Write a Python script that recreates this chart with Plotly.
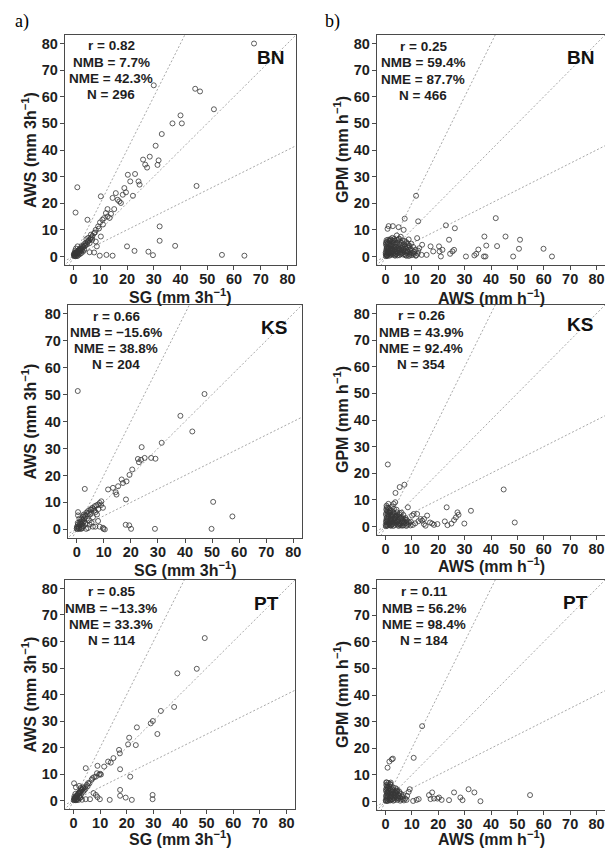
import plotly.graph_objects as go

# ---------------------------------------------------------------- data
AXIS_RANGE = [-3.2, 83.2]
TICKS = [0, 10, 20, 30, 40, 50, 60, 70, 80]
REF_SLOPES = [0.5, 1.0, 2.0]          # 1:2, 1:1 and 2:1 reference lines

SITES = ["BN", "KS", "PT"]
X_TITLE_A = "SG (mm 3h<sup>\u22121</sup>)"
Y_TITLE_A = "AWS (mm 3h<sup>\u22121</sup>)"
X_TITLE_B = "AWS (mm h<sup>\u22121</sup>)"
Y_TITLE_B = "GPM (mm h<sup>\u22121</sup>)"

# statistics: r, NMB (%), NME (%), N
STATS_A_BN = ["0.82", "7.7", "42.3", "296"]
STATS_A_KS = ["0.66", "\u221215.6", "38.8", "204"]
STATS_A_PT = ["0.85", "\u221213.3", "33.3", "114"]
STATS_B_BN = ["0.25", "59.4", "87.7", "466"]
STATS_B_KS = ["0.26", "43.9", "92.4", "354"]
STATS_B_PT = ["0.11", "56.2", "98.4", "184"]

# (SG, AWS) pairs, 3-hourly accumulation
A_BN = [
    (67.5, 80), (30, 64.3), (45.5, 63), (47.3, 62), (52.5, 55.3), (40, 53), (37, 50),
    (40.5, 50), (33, 46), (30.7, 41.6), (26, 36.4), (28.5, 37.5), (26.8, 34.5),
    (27.5, 33.4), (31.8, 36.1), (31.4, 34.4), (20.3, 30.7), (23, 31), (21.2, 28.2),
    (24.3, 28.2), (24.7, 27), (19, 25.7), (19.6, 24.1), (18.4, 23.2), (22.2, 22.8),
    (15.8, 23.8), (14.6, 22), (17.1, 20.7), (17.7, 20.1), (16.5, 21.3), (12.7, 17.8),
    (12.1, 16.3), (15.2, 17.8), (11.4, 14.4), (12.7, 15), (10.8, 13.8), (9.9, 12.8),
    (9.2, 11.3), (8.3, 10), (7.7, 8.8), (7.1, 7.8), (6.4, 6.9), (5.8, 6), (5.2, 5.3),
    (4.2, 4), (3.3, 3.2), (2.4, 2.5), (1.4, 1.9), (0.75, 1.3), (0.1, 0.6), (7, 6.3),
    (8.3, 5.6), (10.2, 7.5), (10.2, 22.6), (1.4, 26), (0.75, 16.5), (5.2, 13.8),
    (46, 26.5), (32.2, 11.3), (32.2, 5.9), (38, 4), (20, 3.8), (22.8, 2.1), (28, 1.8),
    (29.7, 0.5), (55.5, 0.6), (63.9, 0.3), (14.6, 0.3), (12.3, 0.6), (9.8, 0.3),
    (8.7, 3.8), (6, 1.6), (7.7, 1.5), (11, 12), (13.5, 14.5), (14, 16), (9.5, 10.5),
    (8, 9), (6.8, 7.2), (6, 5), (5, 4.5), (4.5, 5), (3.8, 3.5), (3, 2.5), (2.5, 3),
    (2, 1.5), (1.8, 2.2), (1.2, 1), (1, 0.5), (0.5, 0.2), (0.3, 0.8), (0.6, 2.2),
    (1.5, 3.8), (2.2, 0.8), (3.5, 1.8), (2.8, 1.2), (0.9, 3), (1.6, 0.3), (4, 2.5),
    (0.2, 0.2), (1, 1.6), (2, 2.2), (3, 3.8), (4.8, 6.5), (6.5, 8.2), (5.5, 7),
    (0.4, 0.4), (0.7, 0.9), (1.1, 1.4), (1.6, 1.6), (2.1, 2.6), (2.7, 2.9), (3.6, 3.9),
    (4.4, 4.2), (0.2, 1.1), (1.3, 0.2), (2.6, 1.9), (3.9, 4.6), (5.4, 5.8), (6.2, 6.4),
    (0.8, 0.1), (1.9, 1.2), (0.5, 1.5), (3.1, 2.1),
]
A_KS = [
    (0.4, 51.3), (47.2, 50.2), (38.3, 42.1), (42.7, 36.3), (31.4, 32.1), (24, 30.5),
    (22.6, 26.1), (23.8, 25.8), (25.1, 26.5), (27.5, 26.5), (29.1, 26.2), (23, 24.9),
    (20.5, 22.2), (19.5, 20.2), (18.4, 17.8), (17.1, 17.2), (16.6, 18.5), (15.3, 16),
    (13.4, 15.4), (11.6, 14.8), (14.4, 13.8), (14.7, 12.9), (3, 15), (18.2, 11.1),
    (50.4, 10.2), (57.5, 4.8), (18.1, 1.7), (19.4, 1.5), (20.1, 0.2), (28.9, 0.2),
    (49.8, 0.2), (9.9, 0.2), (10.4, 0), (9.7, 0.6), (8.5, 1), (6.9, 1), (6, 1),
    (4.8, 1.8), (7.9, 3.1), (9.1, 10.4), (8.5, 9.8), (7.9, 9.2), (7.3, 8.9), (6.7, 8.6),
    (5.8, 8), (5.1, 7.4), (4.2, 6.8), (3.6, 6.2), (3, 5.2), (2.3, 4.7), (1.7, 3.7),
    (1.1, 2.7), (0.5, 1.8), (0.1, 1), (0, 0.3), (0.5, 6.4), (0.5, 5.2), (9.7, 8),
    (7, 6.4), (7.5, 5.5), (0.3, 0.1), (0.8, 0.5), (1.2, 1.5), (1.5, 0.2), (2, 2),
    (2.5, 1.2), (2.8, 3), (3.3, 2.2), (3.8, 4), (4.2, 0.5), (4.5, 3.3), (5, 5.5),
    (5.5, 2.5), (6, 4.5), (6.5, 7), (8, 7.5), (9, 9), (2, 0.6), (1, 4), (3.5, 0.2),
    (1.8, 1), (2.6, 5.5),
    (0.2, 0.6), (0.6, 1.1), (1.4, 2.2), (2.1, 3.3), (2.7, 4.1), (3.3, 4.9), (0.9, 0.2),
    (1.6, 2.9), (2.4, 2.6), (4, 5.6), (4.6, 6.2), (5.4, 7.3), (6.2, 7.6), (0.4, 2.4),
    (1.9, 0.3),
]
A_PT = [
    (49.3, 61.3), (46.3, 49.7), (39, 48), (37.8, 35.3), (32.8, 33.8), (29.8, 30),
    (29, 29.1), (31.5, 25.1), (23.8, 27.6), (20.9, 23.7), (20.5, 21.2), (23.4, 20.9),
    (17.1, 19.1), (17.4, 17.8), (15, 16), (13, 14.7), (14, 14.3), (11.5, 12.8),
    (9, 13.1), (4.6, 12.2), (17.5, 11.8), (21.3, 9), (10.3, 9.8), (9.6, 9.7),
    (17.5, 4), (17.5, 1.8), (19.6, 1.1), (29.7, 2.1), (29.7, 0.5), (21.9, 0.25),
    (13.6, 0.25), (9.9, 0.5), (9, 1.3), (7.5, 2.8), (8.4, 2.1), (6.2, 0.5), (4.6, 0.5),
    (0.2, 6.5), (0.9, 5), (2.1, 5.5), (2.7, 4.7), (3.4, 5), (4.2, 5), (5, 5.9),
    (5.5, 6.6), (6.8, 7.8), (7.1, 8.4), (7.7, 8.8), (8.4, 9), (8.8, 10.3), (10, 10.1),
    (0.1, 0.1), (0.4, 0.6), (0.8, 1.2), (1.2, 1.8), (1.6, 2.4), (2, 3), (2.5, 3.5),
    (3, 4), (3.5, 3.2), (0.5, 0.2), (1, 0.4), (1.5, 0.8), (2.2, 1.5), (2.8, 2.2),
    (3.2, 0.3), (1.8, 0.2), (0.3, 1.5), (0.7, 2.5), (4, 3.8), (2.4, 0.9),
    (0.2, 0.4), (0.6, 0.9), (1.1, 1.1), (1.4, 2), (1.9, 2.6), (2.3, 2.8), (2.7, 3.3),
    (3.3, 4.3), (3.7, 4.5), (0.9, 0.1), (1.3, 0.3), (2.6, 1.2), (4.5, 4.4), (0.4, 1),
    (5.3, 5.4), (6, 6.5),
]

# (AWS, GPM) pairs, hourly
B_BN = [
    (11.6, 22.8), (7.3, 14.2), (12.4, 13.2), (1.2, 11.4), (2.8, 11.4), (5, 11),
    (6.9, 10), (0.8, 10.4), (22.9, 11.7), (26.3, 10.6), (41.8, 14.4), (24.1, 6.3),
    (12, 6.9), (4.3, 7.9), (13.9, 4.4), (17.1, 3.8), (20.3, 3.8), (21.6, 2.5),
    (20.5, 1.9), (18.1, 1.9), (26, 2.5), (25.4, 1.9), (24.5, 1), (21, 0), (30.5, 0),
    (33.7, 0.4), (34.4, 1), (35.2, 2.6), (37.5, 7.5), (38.2, 4.1), (42.3, 3.9),
    (45.5, 7.5), (51, 6.3), (50.6, 2.9), (59.9, 2.9), (37.3, 0), (37.9, 0), (48.4, 0),
    (63.1, 0), (15.6, 0.6), (13.7, 0.6), (11.5, 0.3),
    (0.2, 0.1), (0.5, 0.5), (0.8, 1.2), (1, 2), (1.2, 3), (0.4, 4), (0.6, 5.5),
    (1, 6.3), (1.5, 0.3), (1.8, 1.5), (2, 2.8), (2.2, 4.2), (2.5, 5.2), (2.8, 0.8),
    (3, 2), (3.2, 3.5), (3.5, 6), (3.8, 1), (4, 4.8), (4.3, 2.5), (4.6, 0.4),
    (5, 3.2), (5.3, 5.5), (5.6, 1.6), (6, 2.4), (6.3, 4), (6.7, 0.7), (7, 3),
    (7.3, 5.8), (7.6, 1.8), (8, 0.3), (8.3, 2.2), (8.7, 4.2), (9, 1), (9.5, 2.9),
    (10, 0.5), (10.5, 3.6), (11, 1.7), (0.3, 2.4), (0.7, 3.6), (1.4, 4.6), (1.9, 6.5),
    (2.6, 7), (0.9, 0.7), (1.1, 1.1), (1.6, 2.2), (2.3, 1.3), (3.4, 0.5), (0.1, 1.5),
    (0.5, 2.9), (4.9, 6.5), (5.8, 7.4), (6.5, 6), (8.8, 6.4), (9.8, 4.8),
    (0.3, 0.6), (0.6, 1.8), (0.9, 2.6), (1.3, 3.4), (0.2, 4.6), (0.8, 4.9), (1.7, 5.8),
    (0.4, 6.1), (1.1, 5.1), (1.9, 3.1), (2.4, 2.1), (2.7, 3.9), (2.9, 5.9), (3.3, 4.4),
    (3.6, 2.7), (3.9, 1.7), (4.1, 3.6), (4.4, 5.2), (4.7, 1.3), (5.1, 2.1), (5.4, 4.4),
    (5.7, 0.9), (6.1, 3.3), (6.4, 1.4), (6.8, 2.6), (7.1, 4.6), (7.4, 0.8), (7.8, 2.9),
    (8.1, 1.3), (8.5, 3.4), (8.9, 0.2), (9.2, 2.4), (9.6, 1.4), (10.2, 2.2), (10.8, 0.9),
    (11.4, 2.6), (12.2, 1.1), (12.8, 3.1), (0.1, 0.9), (0.7, 0.2), (1.4, 1.3), (2.1, 0.6),
    (2.9, 1.6), (3.7, 0.3), (4.5, 1.9), (5.3, 0.5), (6, 1.1), (6.9, 1.9), (7.7, 0.4),
    (8.6, 1.7), (9.3, 0.6), (0.5, 3.3), (1.2, 2.5), (1.9, 4), (2.6, 2.9), (3.1, 5.1),
    (3.8, 3.8), (4.6, 3), (5.5, 2.8), (6.6, 3.6), (7.5, 3.8), (8.4, 4.9), (0.2, 5.2),
    (1.5, 6), (2.3, 6.2), (3.3, 6.6), (4.4, 6.1), (5.2, 6.7), (6.2, 5.1), (7.9, 5.4),
    (9.1, 3.9), (10.3, 1.2), (11.6, 0.4), (12.4, 2.2), (0.6, 0.4), (1, 1.4), (1.7, 0.9),
    (2.4, 2.4), (3.2, 1.2), (4.1, 0.9), (4.9, 2.7),
]
B_KS = [
    (0.9, 23.3), (7.2, 15.7), (5.4, 14.8), (3.8, 12.6), (44.8, 13.9), (49, 1.5),
    (23.2, 7.2), (32.4, 5.9), (27.3, 5.3), (27.7, 4.4), (26.7, 3.4), (26, 2.4),
    (29.9, 1.1), (25, 1.1), (23.5, 0.5), (22.5, 1.9), (19.7, 0.9), (18.4, 0.6),
    (17.7, 1.1), (16.9, 1.5), (15.8, 4.1), (14.6, 2.8), (13.9, 2.2), (13.3, 2.8),
    (12, 4.7), (10.7, 4.7), (10.1, 4.1), (8.5, 7.2), (15.2, 0.3), (14.6, 0.9),
    (3.7, 9.1), (3.1, 8.5), (0.5, 7.2), (1.1, 8.5), (12.5, 2), (11.3, 1.2), (9.5, 0.4),
    (9, 1.5), (8, 2.5),
    (0.2, 0.1), (0.5, 1), (0.8, 2), (1, 3), (1.2, 4), (0.3, 5), (0.6, 6), (1.5, 0.5),
    (1.8, 1.5), (2, 2.5), (2.2, 3.5), (2.5, 4.5), (2.8, 5.5), (3, 0.2), (3.3, 1.8),
    (3.6, 3), (4, 4), (4.2, 6.3), (4.5, 0.8), (4.8, 2.3), (5.2, 3.6), (5.5, 5),
    (5.8, 1.2), (6.2, 2.8), (6.5, 0.3), (6.8, 4.3), (7.2, 1.8), (7.6, 3.2), (8.2, 0.6),
    (1.4, 6.8), (2.4, 7.5), (0.4, 2.8), (1.6, 5.2), (2.7, 1), (3.9, 2.1), (5, 0.2),
    (0.9, 0.4), (1.3, 1.4), (2.1, 0.3), (3.5, 4.8),
    (0.1, 0.6), (0.4, 1.6), (0.7, 2.4), (1.1, 3.6), (0.2, 4.4), (0.9, 4.7), (1.6, 5.8),
    (0.3, 6.4), (1.2, 5.4), (1.9, 3.1), (2.3, 2.1), (2.6, 3.9), (3, 5.1), (3.2, 4.2),
    (3.5, 2.6), (3.8, 1.4), (4.1, 3.5), (4.4, 5.3), (4.6, 1.6), (5, 2.9), (5.3, 4.4),
    (5.6, 0.7), (6, 3.4), (6.3, 1.6), (6.6, 2.2), (7, 0.5), (7.4, 2.6), (7.8, 1.3),
    (8.4, 1.9), (0.6, 0.3), (1.3, 0.9), (2, 0.4), (2.8, 1.5), (3.6, 0.6), (4.3, 1.9),
    (5.1, 1.1), (5.9, 0.4), (6.9, 1.2), (0.5, 3.4), (1.4, 2.3), (2.1, 4.3), (2.9, 2.6),
    (3.7, 3.6), (4.6, 4.1), (5.6, 3.1), (6.1, 5.2), (0.8, 5.6), (1.9, 6.2), (3.2, 6.6),
    (0.2, 2), (1.7, 1.2), (2.5, 0.7), (3.3, 3), (4.9, 0.6), (6.7, 3), (7.9, 0.2),
    (8.8, 0.9), (9.6, 1.8), (10.4, 0.6), (0.4, 7.8), (1, 7),
]
B_PT = [
    (13.9, 28.3), (10.7, 16.4), (0.8, 12.7), (1.5, 15), (2.4, 15.8), (2.8, 16.1),
    (0.5, 7.1), (2, 7.1), (9.2, 4.6), (8.8, 3.6), (4.3, 4), (16.5, 2.4), (17.7, 3.4),
    (17.1, 0.9), (18.4, 1.1), (19.7, 1.1), (20.3, 1.5), (21.3, 0.6), (24.1, 0.5),
    (26, 3.4), (28.4, 1.5), (29.2, 0.5), (31.5, 4.6), (33.7, 3.4), (36, 0.1),
    (54.8, 2.4), (11.8, 0.6), (12.6, 0.9), (10.5, 0.2), (6.6, 0.9), (5.6, 1.5),
    (8.2, 2.1),
    (0.2, 0.2), (0.5, 1), (0.8, 2), (1, 3), (1.2, 4), (0.4, 5), (0.7, 6), (1.5, 0.5),
    (1.8, 1.6), (2.1, 2.5), (2.4, 3.5), (2.7, 4.5), (3, 0.3), (3.3, 1.2), (3.6, 2.2),
    (3.9, 3.2), (4.5, 0.6), (4.8, 2.5), (5.2, 3.8), (1.3, 5.5), (2, 6.3), (0.3, 3.8),
    (1.6, 4.8), (2.6, 0.9), (3.8, 5), (6, 2.8), (7, 0.4), (0.9, 0.2),
    (0.1, 0.5), (0.4, 1.5), (0.6, 2.5), (0.9, 3.5), (0.2, 4.4), (0.8, 4.5), (1.5, 5.8),
    (0.3, 6.2), (1.1, 5), (1.7, 3), (2.2, 2), (2.5, 3.8), (2.9, 5.2), (3.1, 4.1),
    (3.4, 2.6), (3.7, 1.5), (4, 3.5), (4.3, 4.6), (4.6, 1.4), (5, 2), (5.4, 3.1),
    (5.8, 0.8), (6.3, 1.8), (6.8, 2.4), (0.6, 0.3), (1.2, 0.8), (1.9, 0.4), (2.7, 1.7),
    (3.5, 0.6), (4.1, 2.1), (4.9, 1.1), (5.6, 0.3), (0.5, 3.2), (1.3, 2.2), (2, 4.3),
    (2.8, 2.8), (3.5, 3.7), (4.5, 3.9), (0.7, 5.5), (1.8, 6.6), (0.2, 2.1), (1.6, 1.2),
    (2.4, 0.7), (3.2, 3), (7.5, 1.1), (8, 0.6), (1.1, 6.9), (0.3, 7.2),
]

# ---------------------------------------------------------------- styling / layout
W, H = 605, 848
FONT = "Liberation Sans, Arial, sans-serif"
SERIF = "Liberation Serif, Times New Roman, serif"
AX_COLOR = "#4a4a4a"
TXT_COLOR = "#1e1e1e"
REF_COLOR = "#a8a8a8"
MARKER_COLOR = "rgba(55,55,55,0.8)"

# panel boxes in pixels: left, top, right, bottom
PANELS = [
    dict(pts=A_BN, stats=STATS_A_BN, site=SITES[0], col="a", box=(65, 35, 296, 265),
         site_xy=(270, 57), stats_xy=(111, 46), xt_y=296),
    dict(pts=B_BN, stats=STATS_B_BN, site=SITES[0], col="b", box=(377, 35, 605, 265),
         site_xy=(580, 57), stats_xy=(423, 46.5), xt_y=297),
    dict(pts=A_KS, stats=STATS_A_KS, site=SITES[1], col="a", box=(68, 305, 302, 538),
         site_xy=(274, 327), stats_xy=(116, 316), xt_y=569),
    dict(pts=B_KS, stats=STATS_B_KS, site=SITES[1], col="b", box=(377, 305, 605, 535),
         site_xy=(580, 325), stats_xy=(421, 315.7), xt_y=565),
    dict(pts=A_PT, stats=STATS_A_PT, site=SITES[2], col="a", box=(65, 580, 295, 809),
         site_xy=(266, 603), stats_xy=(111, 591.7), xt_y=838),
    dict(pts=B_PT, stats=STATS_B_PT, site=SITES[2], col="b", box=(377, 580, 605, 810),
         site_xy=(575, 602), stats_xy=(424, 591.7), xt_y=838),
]
STAT_LABELS = ["r = {}", "NMB = {}%", "NME = {}%", "N = {}"]
STAT_STEP = 16.3


def px(x):
    return x / W


def py(y):
    return 1 - y / H


fig = go.Figure()
annotations = []
layout_axes = {}

for i, p in enumerate(PANELS, start=1):
    xa = "x" if i == 1 else f"x{i}"
    ya = "y" if i == 1 else f"y{i}"
    l, t, r, b = p["box"]

    # reference lines through the origin, spanning the full axis range
    lo, hi = AXIS_RANGE[0] - 10, AXIS_RANGE[1] + 10
    for s in REF_SLOPES:
        fig.add_trace(go.Scatter(
            x=[lo, hi], y=[s * lo, s * hi], mode="lines",
            line=dict(color=REF_COLOR, width=1, dash="2px,2px"),
            xaxis=xa, yaxis=ya, hoverinfo="skip", showlegend=False))

    xs = [q[0] for q in p["pts"]]
    ys = [q[1] for q in p["pts"]]
    fig.add_trace(go.Scatter(
        x=xs, y=ys, mode="markers",
        marker=dict(symbol="circle-open", size=5,
                    line=dict(width=1, color=MARKER_COLOR), color=MARKER_COLOR),
        xaxis=xa, yaxis=ya, showlegend=False))

    common = dict(range=AXIS_RANGE, tickvals=TICKS, ticks="outside", ticklen=4,
                  tickwidth=1, tickcolor=AX_COLOR, showline=True, linecolor=AX_COLOR,
                  linewidth=1.3, showgrid=False, zeroline=False, fixedrange=True,
                  tickfont=dict(family=FONT, size=14.5, color=TXT_COLOR, weight="bold"))
    key = "" if i == 1 else str(i)
    layout_axes["xaxis" + key] = dict(common, domain=[px(l), px(r)], anchor=ya,
                                      mirror=True, ticklabelstandoff=-4)
    layout_axes["yaxis" + key] = dict(common, domain=[py(b), py(t)], anchor=xa,
                                      mirror=(p["col"] == "a"), ticklabelstandoff=-1)

    # site name
    annotations.append(dict(
        x=px(p["site_xy"][0]), y=py(p["site_xy"][1]), xref="paper", yref="paper",
        text=p["site"], showarrow=False, xanchor="center", yanchor="middle",
        font=dict(family=FONT, size=19, color="#111", weight="bold")))

    # statistics block
    sx, sy = p["stats_xy"]
    for k, (fmt, val) in enumerate(zip(STAT_LABELS, p["stats"])):
        annotations.append(dict(
            x=px(sx), y=py(sy + k * STAT_STEP), xref="paper", yref="paper",
            text=fmt.format(val), showarrow=False, xanchor="center", yanchor="middle",
            font=dict(family=FONT, size=13.5, color=TXT_COLOR, weight="bold")))

    # axis titles
    xt = X_TITLE_A if p["col"] == "a" else X_TITLE_B
    yt = Y_TITLE_A if p["col"] == "a" else Y_TITLE_B
    annotations.append(dict(
        x=px((l + r) / 2 if p["col"] == "a" else 491), y=py(p["xt_y"]),
        xref="paper", yref="paper", text=xt, showarrow=False,
        xanchor="center", yanchor="middle",
        font=dict(family=FONT, size=16, color=TXT_COLOR, weight="bold")))
    annotations.append(dict(
        x=px(29 if p["col"] == "a" else 341), y=py((t + b) / 2),
        xref="paper", yref="paper", text=yt, showarrow=False, textangle=-90,
        xanchor="center", yanchor="middle",
        font=dict(family=FONT, size=16, color=TXT_COLOR, weight="bold")))

# column tags
for tag, x in (("a)", 22), ("b)", 332)):
    annotations.append(dict(
        x=px(x), y=py(22), xref="paper", yref="paper", text=tag, showarrow=False,
        xanchor="center", yanchor="middle",
        font=dict(family=SERIF, size=18, color="#000")))

fig.update_layout(
    width=W, height=H, margin=dict(l=0, r=0, t=0, b=0),
    paper_bgcolor="white", plot_bgcolor="white",
    annotations=annotations, **layout_axes)

fig.write_html("out.html")
